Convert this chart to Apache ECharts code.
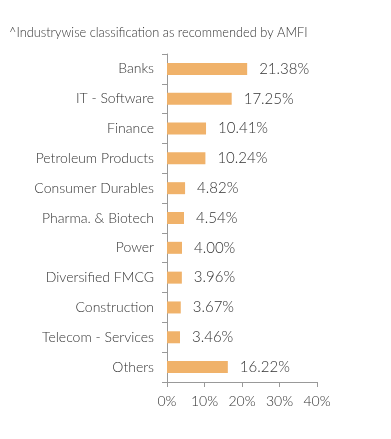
<!DOCTYPE html>
<html><head><meta charset="utf-8">
<script src="https://cdn.jsdelivr.net/npm/echarts@6/dist/echarts.min.js"></script>
<style>html,body{margin:0;padding:0;background:#fff}#c{width:391px;height:439px}</style>
</head><body><div id="c"></div>
<script>
const categories = ["Banks","IT - Software","Finance","Petroleum Products","Consumer Durables","Pharma. & Biotech","Power","Diversified FMCG","Construction","Telecom - Services","Others"];
const values = [21.38,17.25,10.41,10.24,4.82,4.54,4.00,3.96,3.67,3.46,16.22];
const xTicks = [0,10,20,30,40];
const chart = echarts.init(document.getElementById('c'));
chart.setOption({
  animation:false,
  title:{text:"^Industrywise classification as recommended by AMFI",left:4,top:21,textStyle:{fontFamily:"Lato",fontSize:12.8,fontWeight:300,color:"#333"}},
  grid:{left:167,right:74,top:54,bottom:57,containLabel:false},
  xAxis:{type:'value',min:xTicks[0],max:xTicks[xTicks.length-1],interval:10,
    axisLine:{show:true,lineStyle:{color:'#999'}},axisTick:{show:true,length:5,lineStyle:{color:'#999'}},
    splitLine:{show:false},
    axisLabel:{formatter:'{value}%',fontFamily:'Lato',fontSize:14,fontWeight:300,color:'#333',margin:12}},
  yAxis:{type:'category',data:categories,inverse:true,
    axisLine:{show:true,lineStyle:{color:'#999'}},axisTick:{show:true,length:5,lineStyle:{color:'#999'}},
    axisLabel:{fontFamily:'Lato',fontSize:14,fontWeight:300,color:'#333',margin:13}},
  series:[{type:'bar',data:values,barWidth:12,itemStyle:{color:'#F0B26A'},
    label:{show:true,position:'right',distance:12,formatter:p=>p.value.toFixed(2)+'%',fontFamily:'Lato',fontSize:15,fontWeight:300,color:'#333'}}]
});
</script></body></html>
